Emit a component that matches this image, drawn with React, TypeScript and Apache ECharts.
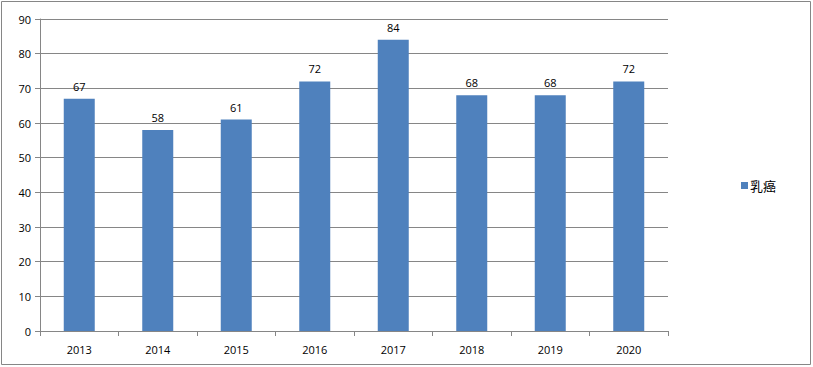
import React, { useEffect, useRef } from "react";
import * as echarts from "echarts";

const categories = ["2013", "2014", "2015", "2016", "2017", "2018", "2019", "2020"];
const values = [67, 58, 61, 72, 84, 68, 68, 72];
const seriesName = "乳癌";

export default function App() {
  const ref = useRef<HTMLDivElement>(null);
  useEffect(() => {
    const chart = echarts.init(ref.current!, null, { renderer: "svg" });
    const gray = "#868686";
    const font = "'Open Sans', 'Liberation Sans', sans-serif";
    chart.setOption({
      animation: false,
      backgroundColor: "#ffffff",
      textStyle: { fontFamily: font },
      grid: { left: 40, right: 145, top: 19, bottom: 36 },
      legend: {
        data: [seriesName],
        left: 736,
        top: 174,
        itemWidth: 7,
        itemHeight: 7,
        itemGap: 4,
        icon: "rect",
        textStyle: { fontSize: 13, color: "#000", fontFamily: "'Noto Sans CJK SC', sans-serif", padding: [0, 0, 0, -3] },
      },
      graphic: [
        {
          type: "rect",
          shape: { x: 1.5, y: 1.5, width: 809, height: 363 },
          style: { fill: "none", stroke: gray, lineWidth: 1 },
          silent: true,
        },
      ],
      xAxis: {
        type: "category",
        data: categories,
        axisLine: { lineStyle: { color: gray } },
        axisTick: { show: true, length: 5, alignWithLabel: false, lineStyle: { color: gray } },
        axisLabel: { color: "#000", fontSize: 11, margin: 13, fontFamily: font },
      },
      yAxis: {
        type: "value",
        min: 0,
        max: 90,
        interval: 10,
        axisLine: { show: true, lineStyle: { color: gray } },
        axisTick: { show: true, length: 5, lineStyle: { color: gray } },
        axisLabel: { color: "#000", fontSize: 11, margin: 9, fontFamily: font },
        splitLine: { lineStyle: { color: gray, width: 1 } },
      },
      series: [
        {
          name: seriesName,
          type: "bar",
          data: values,
          barWidth: 31,
          itemStyle: { color: "#4f81bd" },
          label: { show: true, position: "top", distance: 7, color: "#000", fontSize: 11, fontFamily: font },
        },
      ],
    });
    return () => chart.dispose();
  }, []);
  return <div ref={ref} style={{ position: "fixed", left: 0, top: 0, width: 813, height: 367 }} />;
}
